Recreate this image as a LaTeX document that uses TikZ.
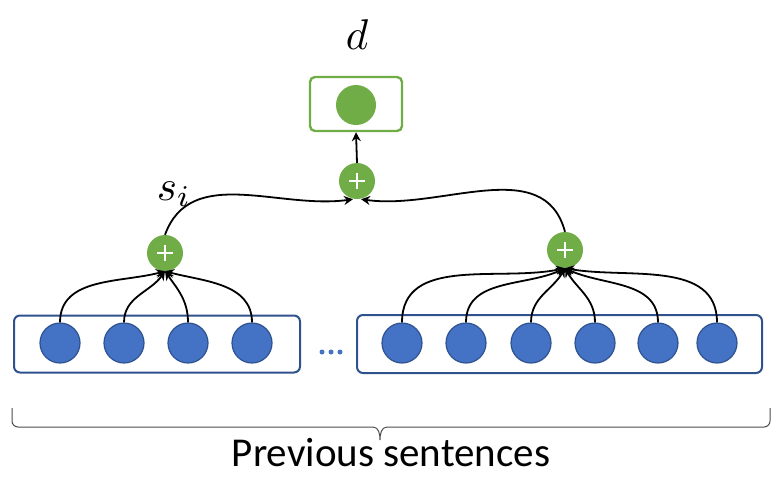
\documentclass[tikz,border=0pt]{standalone}
\usepackage{fontspec}
\newfontfamily\calib{Carlito}
\usetikzlibrary{arrows.meta}
\definecolor{ggreen}{HTML}{70AD47}
\definecolor{bfill}{HTML}{4472C4}
\definecolor{bline}{HTML}{2F528F}
\begin{document}
\begin{tikzpicture}[x=1pt,y=1pt,
  tok/.style={circle,fill=bfill,draw=bline,line width=1.2pt,minimum size=40pt,inner sep=0pt},
  sentbox/.style={draw=bline,line width=2pt,rounded corners=6pt},
  plusnode/.style={circle,fill=ggreen,minimum size=36pt,inner sep=0pt,
    path picture={\draw[white,line width=2.8pt] ([xshift=-8pt]path picture bounding box.center)--([xshift=8pt]path picture bounding box.center);
                  \draw[white,line width=2.8pt] ([yshift=-8pt]path picture bounding box.center)--([yshift=8pt]path picture bounding box.center);}},
  conn/.style={black,line width=1.8pt,-{Stealth[length=9pt,width=9pt]}},
  mathlab/.style={scale=4.3,inner sep=0pt},
]
\useasboundingbox (0,0) rectangle (773,-477);
% top box
\node[draw=ggreen,line width=2.4pt,rounded corners=5pt,minimum width=92pt,minimum height=54pt] (dbox) at (356,-104) {};
\node[circle,fill=ggreen,minimum size=40pt,inner sep=0pt] (dcirc) at (356,-105) {};
\node[mathlab] (dlab) at (357,-35) {$d$};
% plus nodes
\node[plusnode] (ptop) at (357,-181) {};
\node[plusnode] (pl) at (165,-253) {};
\node[plusnode] (pr) at (565,-250) {};
\node[mathlab] (slab) at (174,-194) {$s_i$};
% sentence boxes
\node[sentbox,minimum width=286pt,minimum height=57pt] (lbox) at (157,-344) {};
\node[sentbox,minimum width=405pt,minimum height=58pt] (rbox) at (559.5,-344) {};
\foreach \n/\x in {1/60,2/124,3/188,4/252}{\node[tok] (l\n) at (\x,-343) {};}
\foreach \n/\x in {1/402,2/466,3/531,4/595,5/658,6/717}{\node[tok] (r\n) at (\x,-343) {};}
% dots
\foreach \x [count=\i] in {322,331,340}{\node[circle,fill=bfill,minimum size=5pt,inner sep=0pt] (dot\i) at (\x,-352) {};}
% connectors left
\draw[conn] (l1.north) to[out=90,in=195] (pl.south);
\draw[conn] (l2.north) to[out=90,in=235] (pl.south);
\draw[conn] (l3.north) to[out=90,in=305] (pl.south);
\draw[conn] (l4.north) to[out=90,in=345] (pl.south);
% connectors right
\draw[conn] (r1.north) to[out=90,in=192] (pr.south);
\draw[conn] (r2.north) to[out=90,in=205] (pr.south);
\draw[conn] (r3.north) to[out=90,in=240] (pr.south);
\draw[conn] (r4.north) to[out=90,in=300] (pr.south);
\draw[conn] (r5.north) to[out=90,in=335] (pr.south);
\draw[conn] (r6.north) to[out=90,in=350] (pr.south);
% upper connectors
\draw[conn] (pl.north) to[out=70,in=188] ([xshift=-4pt]ptop.south);
\draw[conn] (pr.north) to[out=105,in=-8] ([xshift=4pt]ptop.south);
\draw[conn] (ptop.north) -- (dbox.south);
% brace
\coordinate (bl) at (12,-408);
\coordinate (br) at (770,-408);
\coordinate (btip) at (380,-440);
\draw[gray!60!black,line width=1pt]
  (bl) -- ++(0,-13) arc[start angle=180,end angle=270,radius=6pt] -- ([xshift=-7pt,yshift=-19pt]bl -| btip)
  to[out=0,in=90] (btip) to[out=90,in=180] ([xshift=7pt,yshift=-19pt]br -| btip)
  -- ([xshift=-6pt,yshift=-19pt]br) arc[start angle=270,end angle=360,radius=6pt] -- (br);
\node[anchor=base,inner sep=0pt] (prev) at (391,-466) {\calib\fontsize{41}{45}\selectfont Previous sentences};
\end{tikzpicture}
\end{document}
